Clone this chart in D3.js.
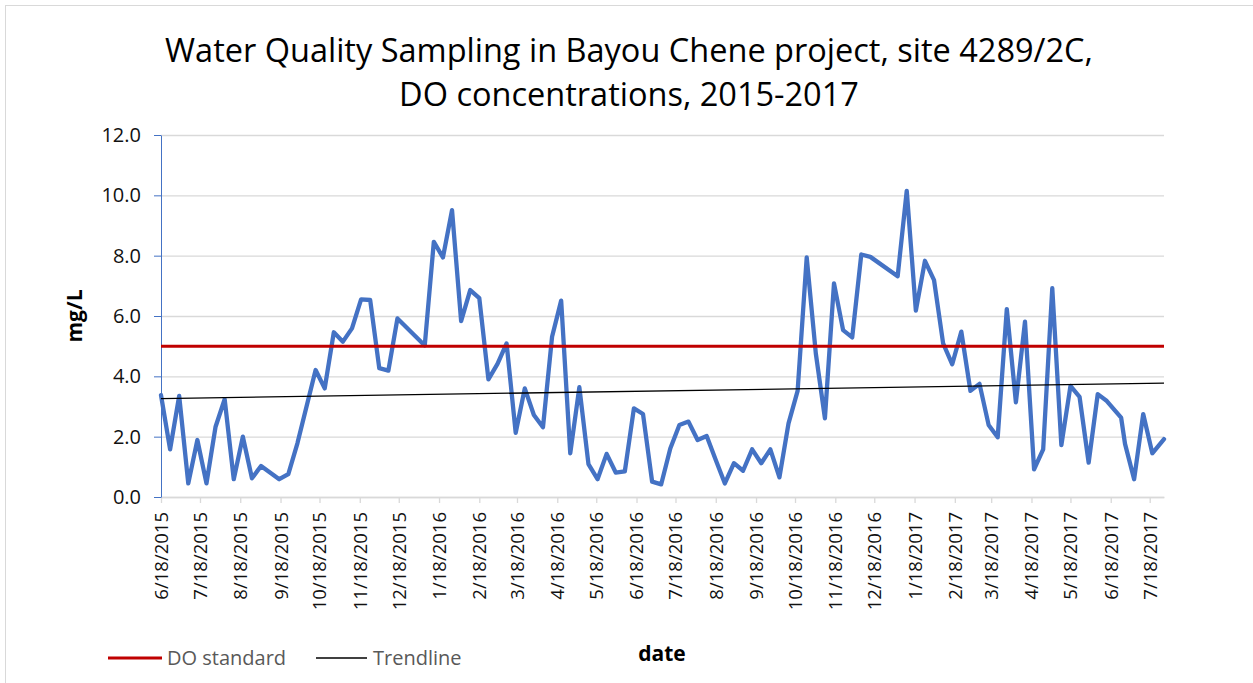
<!DOCTYPE html>
<html>
<head>
<meta charset="utf-8">
<script src="https://cdn.jsdelivr.net/npm/d3@7"></script>
<style>
  body { margin: 0; background: #fff; }
  svg { display: block; }
  text { font-family: "Open Sans", sans-serif; }
</style>
</head>
<body>
<svg width="1253" height="683"></svg>
<script>
// sampling dates and DO readings (mg/L)
const sampleDates = [
  "6/18/2015","6/25/2015","7/2/2015","7/9/2015","7/16/2015","7/23/2015","7/30/2015","8/6/2015","8/13/2015",
  "8/20/2015","8/27/2015","9/3/2015","9/17/2015","9/24/2015","10/1/2015","10/15/2015","10/22/2015","10/29/2015",
  "11/5/2015","11/12/2015","11/19/2015","11/26/2015","12/3/2015","12/10/2015","12/17/2015",
  "1/7/2016","1/14/2016","1/21/2016","1/28/2016","2/4/2016","2/11/2016","2/18/2016","2/25/2016","3/3/2016",
  "3/10/2016","3/17/2016","3/24/2016","3/31/2016","4/7/2016","4/14/2016","4/21/2016","4/28/2016","5/5/2016",
  "5/12/2016","5/19/2016","5/26/2016","6/2/2016","6/9/2016","6/16/2016","6/23/2016","6/30/2016","7/7/2016",
  "7/14/2016","7/21/2016","7/28/2016","8/4/2016","8/11/2016","8/18/2016","8/25/2016","9/1/2016","9/8/2016",
  "9/15/2016","9/22/2016","9/29/2016","10/6/2016","10/13/2016","10/20/2016","10/27/2016","11/3/2016",
  "11/10/2016","11/17/2016","11/24/2016","12/1/2016","12/8/2016","12/15/2016",
  "1/5/2017","1/12/2017","1/19/2017","1/26/2017","2/2/2017","2/9/2017","2/16/2017","2/23/2017","3/2/2017",
  "3/9/2017","3/16/2017","3/23/2017","3/30/2017","4/6/2017","4/13/2017","4/20/2017","4/27/2017","5/4/2017",
  "5/11/2017","5/18/2017","5/25/2017","6/1/2017","6/8/2017","6/15/2017","6/26/2017","6/29/2017","7/6/2017",
  "7/13/2017","7/20/2017","7/29/2017"
];
const doValues = [
  3.38,1.58,3.35,0.45,1.89,0.45,2.33,3.24,0.59,
  2.0,0.62,1.03,0.59,0.76,1.78,4.21,3.60,5.46,
  5.15,5.59,6.55,6.53,4.27,4.19,5.92,
  5.02,8.46,7.94,9.51,5.83,6.86,6.59,3.90,4.41,
  5.09,2.13,3.60,2.72,2.31,5.31,6.51,1.45,3.64,
  1.09,0.59,1.43,0.81,0.85,2.94,2.75,0.51,0.42,
  1.61,2.39,2.50,1.89,2.02,1.23,0.45,1.12,0.87,
  1.58,1.12,1.58,0.65,2.44,3.52,7.94,4.76,
  2.61,7.08,5.53,5.29,8.04,7.96,
  7.32,10.15,6.18,7.83,7.19,5.09,4.40,5.48,3.52,
  3.75,2.39,1.98,6.23,3.14,5.81,0.92,1.58,6.92,
  1.72,3.68,3.32,1.14,3.41,3.18,2.63,1.76,0.59,
  2.75,1.45,1.92
];
const doStandard = 5;
const yTicks = [0, 2, 4, 6, 8, 10, 12];
const titleLines = ["Water Quality Sampling in Bayou Chene project, site 4289/2C,", "DO concentrations, 2015-2017"];
const legendNames = ["DO standard", "Trendline"];

const parse = d3.timeParse("%m/%d/%Y");
const data = sampleDates.map((d, i) => ({ date: parse(d), value: doValues[i] }));

const svg = d3.select("svg");
const plotL = 161, plotR = 1164, plotT = 135, plotB = 497;

// chart frame
svg.append("rect")
  .attr("x", 5.5).attr("y", 5.5)
  .attr("width", 1270).attr("height", 700)
  .attr("fill", "none").attr("stroke", "#d9d9d9");

const x = d3.scaleTime()
  .domain(d3.extent(data, d => d.date))
  .range([plotL, plotR]);
const y = d3.scaleLinear().domain([0, 12]).range([plotB, plotT]);

// gridlines
svg.append("g")
  .attr("transform", `translate(${plotL},0)`)
  .call(d3.axisLeft(y).tickValues(yTicks).tickSize(-(plotR - plotL)).tickFormat(""))
  .call(g => {
    g.select(".domain").remove();
    g.selectAll(".tick line").attr("stroke", "#d9d9d9").attr("stroke-width", 1.3);
  });

// x axis, monthly ticks on the 18th
const monthTicks = d3.range(26).map(i => new Date(2015, 5 + i, 18));
svg.append("g")
  .attr("transform", `translate(0,${plotB})`)
  .call(d3.axisBottom(x).tickValues(monthTicks).tickSize(6).tickSizeOuter(0).tickFormat(d3.timeFormat("%-m/%-d/%Y")))
  .call(g => {
    g.select(".domain").attr("stroke", "#d9d9d9").attr("stroke-width", 1.3);
    g.selectAll(".tick line").attr("stroke", "#d9d9d9").attr("stroke-width", 1.3);
    g.selectAll(".tick text")
      .attr("transform", "rotate(-90)")
      .attr("x", -15).attr("y", 0).attr("dy", "0.35em")
      .style("text-anchor", "end")
      .style("font-family", "'Open Sans', sans-serif")
      .style("font-size", "18.5px")
      .attr("fill", "#111");
  });

// y axis
svg.append("g")
  .attr("transform", `translate(${plotL},0)`)
  .call(d3.axisLeft(y).tickValues(yTicks).tickSize(7).tickSizeOuter(0).tickPadding(13).tickFormat(d3.format(".1f")))
  .call(g => {
    g.select(".domain").attr("stroke", "#4472c4");
    g.selectAll(".tick line").attr("stroke", "#4472c4");
    g.selectAll(".tick text")
      .style("font-family", "'Open Sans', sans-serif")
      .style("font-size", "20px")
      .attr("fill", "#111");
  });

// DO series
svg.append("path")
  .datum(data)
  .attr("fill", "none")
  .attr("stroke", "#4472c4")
  .attr("stroke-width", 4.3)
  .attr("stroke-linejoin", "round")
  .attr("stroke-linecap", "round")
  .attr("d", d3.line().x(d => x(d.date)).y(d => y(d.value)));

// DO standard
svg.append("line")
  .attr("x1", plotL).attr("x2", plotR)
  .attr("y1", y(doStandard)).attr("y2", y(doStandard))
  .attr("stroke", "#c00000").attr("stroke-width", 3);

// linear trendline (least squares on date)
const xs = data.map(d => +d.date), ys = data.map(d => d.value);
const mx = d3.mean(xs), my = d3.mean(ys);
const slope = d3.sum(xs, (v, i) => (v - mx) * (ys[i] - my)) / d3.sum(xs, v => (v - mx) * (v - mx));
const trend = v => my + slope * (v - mx);
const ends = x.domain();
svg.append("line")
  .attr("x1", x(ends[0])).attr("x2", x(ends[1]))
  .attr("y1", y(trend(+ends[0]))).attr("y2", y(trend(+ends[1])))
  .attr("stroke", "#000").attr("stroke-width", 1.3);

// title
svg.append("g").selectAll("text")
  .data(titleLines)
  .enter()
  .append("text")
  .attr("x", 629)
  .attr("y", (d, i) => 62 + i * 44)
  .attr("text-anchor", "middle")
  .style("font-size", "32.5px")
  .attr("fill", "#000")
  .text(d => d);

// axis titles
svg.append("text")
  .attr("transform", "translate(82,316) rotate(-90)")
  .attr("text-anchor", "middle")
  .style("font-size", "21px")
  .style("font-weight", "bold")
  .text("mg/L");
svg.append("text")
  .attr("x", 662).attr("y", 661)
  .attr("text-anchor", "middle")
  .style("font-size", "21px")
  .style("font-weight", "bold")
  .text("date");

// legend
const legendColors = ["#c00000", "#000"];
const legendX = [108, 316];
const lg = svg.append("g").selectAll("g")
  .data(legendNames)
  .enter()
  .append("g")
  .attr("transform", (d, i) => `translate(${legendX[i]},658)`);
lg.append("line")
  .attr("x1", 0).attr("x2", (d, i) => i === 0 ? 54 : 51)
  .attr("stroke", (d, i) => legendColors[i])
  .attr("stroke-width", (d, i) => i === 0 ? 3 : 1.3);
lg.append("text")
  .attr("x", (d, i) => i === 0 ? 59 : 57)
  .attr("dy", "0.35em")
  .style("font-size", "20px")
  .attr("fill", "#595959")
  .text(d => d);
</script>
</body>
</html>
